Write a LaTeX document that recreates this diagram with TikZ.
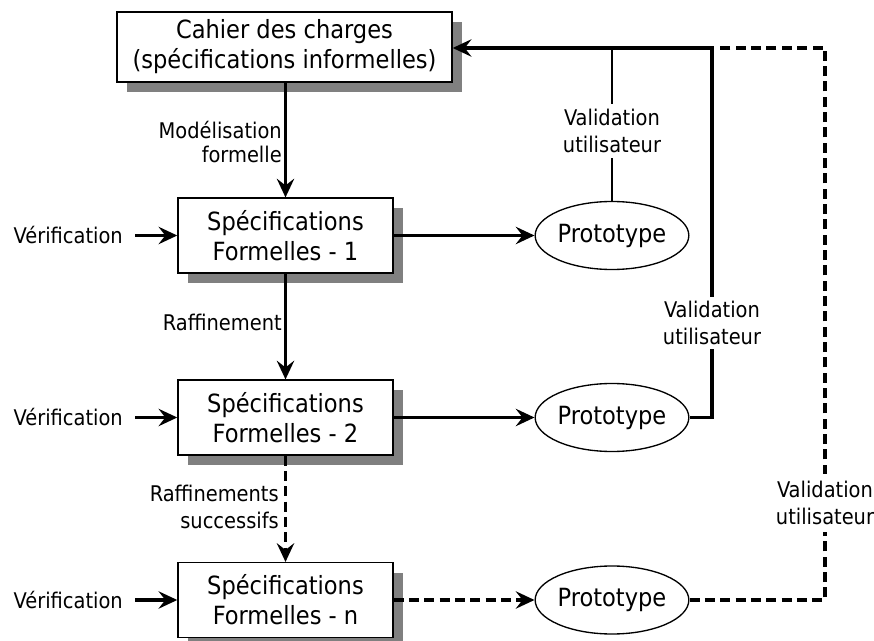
\documentclass[tikz,border=0pt]{standalone}
\usepackage{fontspec}
\setmainfont{DejaVu Sans Condensed}
\usetikzlibrary{shapes.geometric,shadows,arrows.meta}
\newcommand\boxfont{\fontsize{18.8}{22.5}\selectfont}
\newcommand\lblfont{\fontsize{16.2}{20.5}\selectfont}
\tikzset{
  specbox/.style={draw, line width=1.1pt, fill=white, align=center, inner sep=0pt,
    minimum width=161.25pt, minimum height=56pt, font=\boxfont,
    drop shadow={shadow xshift=7.5pt, shadow yshift=-7.5pt, fill=black!50, opacity=1}},
  proto/.style={draw, ellipse, line width=1pt, fill=white, inner sep=0pt,
    minimum width=107.25pt, minimum height=51pt, font=\boxfont},
  lbl/.style={font=\lblfont, align=center, inner sep=0pt},
  conn/.style={line width=2.5pt},
  fbconn/.style={line width=2.8pt},
  thinconn/.style={line width=1.8pt},
  dconn/.style={line width=2.5pt, dash pattern=on 7.5pt off 4pt},
  tip/.style={-{Stealth[length=14pt, width=13pt, inset=5pt]}},
}
\begin{document}
\begin{tikzpicture}[x=0.75pt, y=-0.75pt]
\useasboundingbox (0,0) rectangle (874,641);
% boxes
\node[specbox, minimum width=251.25pt, minimum height=52.5pt] (top) at (284.5,47)
  {Cahier des charges\\(spécifications informelles)};
\node[specbox] (b1) at (285.5,235.5) {Spécifications\\Formelles - 1};
\node[specbox] (b2) at (285.5,417.5) {Spécifications\\Formelles - 2};
\node[specbox] (bn) at (285.5,600) {Spécifications\\Formelles - n};
% prototypes
\node[proto] (p1) at (612,235.5) {Prototype};
\node[proto] (p2) at (612,417.5) {Prototype};
\node[proto] (p3) at (612,600) {Prototype};
% verification labels
\node[lbl, anchor=east, inner xsep=9pt] (v1) at (135,235.5) {Vérification};
\node[lbl, anchor=east, inner xsep=9pt] (v2) at (135,417.5) {Vérification};
\node[lbl, anchor=east, inner xsep=9pt] (vn) at (135,600) {Vérification};
\draw[conn, tip] (v1.east) -- (b1.west);
\draw[conn, tip] (v2.east) -- (b2.west);
\draw[conn, tip] (vn.east) -- (bn.west);
% vertical flow
\draw[conn, tip] (top.south -| b1.north) -- (b1.north);
\node[lbl, anchor=east, align=right] (lm) at (282,142) {Modélisation\\[-3pt]formelle};
\draw[conn, tip] (b1.south) -- (b2.north);
\node[lbl, anchor=east] (lr) at (282,322) {Raffinement};
\draw[dconn, tip] (b2.south) -- (bn.north);
\node[lbl, anchor=east, align=right] (ls) at (279,507) {Raffinements\\successifs};
% to prototypes
\draw[conn, tip] (b1.east) -- (p1.west);
\draw[conn, tip] (b2.east) -- (p2.west);
\draw[dconn, tip] (bn.east) -- (p3.west);
% feedback
\coordinate (cA) at (712,48);
\coordinate (cB) at (825,48);
\coordinate (cD) at (717,48);
\draw[fbconn, tip] (p2.east) -| (cA) -- (top.east |- cA);
\node[lbl, fill=white, inner ysep=3pt] (val2) at (712,323) {Validation\\utilisateur};
\draw[thinconn] (p1.north) -- (p1.north |- cA);
\node[lbl, fill=white, inner ysep=4pt] (val1) at (612,131) {Validation\\utilisateur};
\draw[dconn] (p3.east) -| (cB) -- (cD);
\node[lbl, fill=white, inner ysep=5pt] (val3) at (825,503) {Validation\\utilisateur};
\end{tikzpicture}
\end{document}
